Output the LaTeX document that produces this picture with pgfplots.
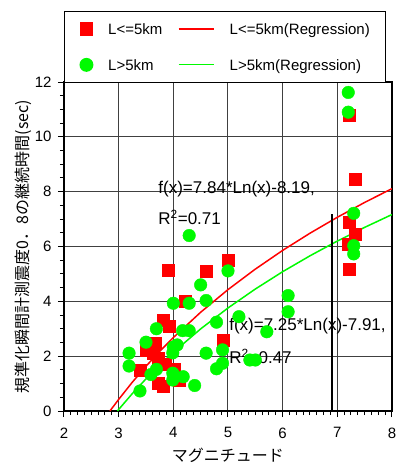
\documentclass[border=0pt]{standalone}
\usepackage{fontspec}
\setmainfont{Liberation Sans}
\newfontfamily\cjk{Noto Sans CJK JP}
\usepackage{pgfplots}
\pgfplotsset{compat=1.18}
\definecolor{pgreen}{RGB}{0,250,0}
\pgfplotsset{
  legmark/.style={legend image code/.code={\draw[mark repeat=2,mark phase=2,##1] plot coordinates {(0pt,0pt)(17.5pt,0pt)(35pt,0pt)};}},
  legline/.style={legend image code/.code={\draw[##1] (0pt,0pt) -- (35pt,0pt);}},
}
\begin{document}
\begin{tikzpicture}
\useasboundingbox (-64pt,-53pt) rectangle (332pt,411pt);
\begin{axis}[
  scale only axis, width=328pt, height=329pt,
  xmin=2, xmax=8, ymin=0, ymax=12,
  xtick={2,3,...,8}, ytick={0,2,...,12},
  minor x tick num=7, minor y tick num=3,
  xtick pos=left, ytick pos=left,
  tick align=outside,
  major tick length=6pt, minor tick length=4pt,
  every tick/.style={black, line width=1pt},
  grid=major,
  major grid style={black!75, line width=1pt},
  axis line style={line width=1.8pt},
  /pgf/number format/assume math mode=true,
  ticklabel style={font=\fontsize{15}{15}\selectfont},
  xticklabel style={yshift=-7pt},
  yticklabel style={xshift=-3pt},
  xlabel={\cjk マグニチュード},
  xlabel style={at={(axis description cs:0.5,-0.136)}, anchor=center, font=\fontsize{16}{16}\selectfont},
  ylabel={\cjk 規準化瞬間計測震度0．8の継続時間(sec)},
  ylabel style={at={(axis description cs:-0.124,0.5)}, anchor=center, font=\fontsize{16}{16}\selectfont},
  legend columns=2,
  legend cell align=left,
  legend style={at={(axis description cs:0,1)}, anchor=south west, yshift=-1pt,
    draw=black, line width=1.3pt, inner xsep=15.5pt, inner ysep=6pt,
    column sep=15.5pt, row sep=13pt,
    font=\fontsize{15}{18}\selectfont,
    nodes={inner sep=0pt, text height=17pt, text depth=6pt}},
]
\addplot[only marks, mark=square*, mark size=6pt, color=red, forget plot] coordinates {
(3.40,1.50)(3.51,2.23)(3.63,2.11)(3.66,2.47)(3.72,1.92)(3.72,1.01)(3.82,0.91)
(3.85,1.72)(4.01,1.52)(4.11,1.13)(3.82,3.32)(3.93,3.08)(3.91,5.12)(4.21,3.99)
(4.61,5.10)(5.00,5.50)(4.91,2.57)(7.22,10.78)(7.32,8.47)(7.22,6.87)(7.32,6.46)
(7.20,6.09)(7.22,5.18)};
\addplot[only marks, mark=*, mark size=6.3pt, color=pgreen, forget plot] coordinates {
(3.19,2.11)(3.19,1.64)(3.39,0.73)(3.50,2.51)(3.59,1.33)(3.69,1.52)(3.69,3.00)
(3.99,1.38)(3.99,1.13)(3.99,2.12)(4.00,2.33)(4.07,2.41)(4.18,1.25)(4.17,2.93)
(4.29,2.93)(4.00,3.93)(4.29,3.93)(4.29,6.40)(4.39,0.93)(4.50,4.60)(4.60,4.03)
(4.60,2.11)(4.79,3.24)(4.79,1.54)(4.90,2.23)(4.90,1.74)(5.00,5.11)(5.20,3.44)
(5.40,1.86)(5.50,1.86)(5.71,2.89)(6.10,4.21)(6.10,3.62)(7.20,11.62)(7.20,10.90)
(7.30,7.21)(7.30,6.03)(7.30,5.73)};
\addplot[red, line width=1.5pt, forget plot] coordinates {
(2.84,0)(3,0.423)(3.25,1.051)(3.5,1.632)(3.75,2.175)(4,2.679)(4.5,3.602)(5,4.428)
(5.5,5.175)(6,5.858)(6.5,6.485)(7,7.066)(7.5,7.607)(8,8.112)};
\addplot[pgreen, line width=1.5pt, forget plot] coordinates {
(2.977,0)(3,0.055)(3.25,0.636)(3.5,1.173)(3.75,1.673)(4,2.141)(4.5,2.995)(5,3.758)
(5.5,4.449)(6,5.081)(6.5,5.661)(7,6.198)(7.5,6.698)(8,7.166)};
\addplot[black, line width=1.5pt, forget plot] coordinates {(6.9,0)(6.9,7.2)};
\node[anchor=base west, inner sep=0pt, font=\fontsize{17}{17}\selectfont] at (axis cs:3.724,7.92) {f(x)=7.84*Ln(x)-8.19,};
\node[anchor=base west, inner sep=0pt, font=\fontsize{17}{17}\selectfont] at (axis cs:3.724,6.79) {R\textsuperscript{2}=0.71};
\node[anchor=base west, inner sep=0pt, font=\fontsize{17}{17}\selectfont] at (axis cs:5.02,2.92) {f(x)=7.25*Ln(x)-7.91,};
\node[anchor=base west, inner sep=0pt, font=\fontsize{17}{17}\selectfont] at (axis cs:5.02,1.72) {R\textsuperscript{2}=0.47};
\addlegendimage{only marks, mark=square*, mark size=6pt, color=red, legmark}
\addlegendentry{L<=5km}
\addlegendimage{red, line width=1.3pt, legline}
\addlegendentry{L<=5km(Regression)}
\addlegendimage{only marks, mark=*, mark size=6.3pt, color=pgreen, legmark}
\addlegendentry{L>5km}
\addlegendimage{pgreen, line width=1.3pt, legline}
\addlegendentry{L>5km(Regression)}
\end{axis}
\end{tikzpicture}
\end{document}
